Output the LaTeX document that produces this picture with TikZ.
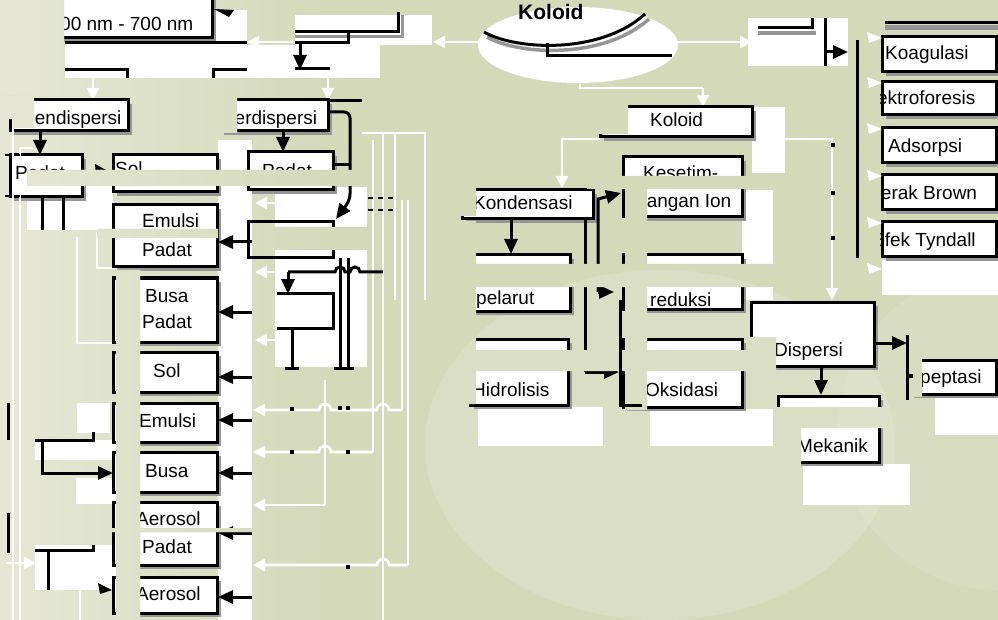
\documentclass[tikz,border=0pt]{standalone}
\usepackage{fontspec}
\setmainfont{Liberation Sans}
\usetikzlibrary{arrows.meta}
\definecolor{bg}{RGB}{212,217,186}
\definecolor{bgl}{RGB}{230,232,214}
\definecolor{shc}{RGB}{150,150,150}
\tikzset{
 bxl/.style={draw=black, line width=3pt, fill=white},
 bk/.style={draw=black, line width=3pt},
 bka/.style={bk, -{Triangle[length=15pt,width=13pt]}},
 wl/.style={draw=white, line width=2.6pt},
 wla/.style={wl, -{Triangle[length=12pt,width=12pt]}},
 txt/.style={font=\fontsize{19}{21}\selectfont, inner sep=0pt, anchor=base west},
 dsh/.style={draw=black, line width=2.4pt, dash pattern=on 5pt off 5pt},
}
\newcommand\bxx[4]{\fill[shc] (#1+4,#2+4) rectangle (#3+4,#4+4); \draw[bxl] (#1,#2) rectangle (#3,#4);}
\newcommand\bdot[2]{\fill[black] (#1-2,#2-2) rectangle (#1+2,#2+2);}
\newcommand\bgpaint{%
 \fill[bg] (-20,-20) rectangle (1020,640);
 \shade[left color=bgl,right color=bg] (-20,-20) rectangle (330,640);
 \fill[white,opacity=.15] (660,445) ellipse (235 and 175);
 \fill[white,opacity=.10] (998,430) circle (160);
}
\begin{document}
\begin{tikzpicture}[x=1pt,y=-1pt]
\useasboundingbox (0,0) rectangle (998,620);
\begin{scope}
\clip (0,0) rectangle (998,620);
\bgpaint
\end{scope}

% ---------- white patches ----------
\fill[white] (65,10) rectangle (247,78);
\fill[white] (295,15) rectangle (432,45);
\fill[white] (247,45) rectangle (380,78);
\fill[white] (578,45) ellipse (100 and 38);
\fill[white] (748,18) rectangle (848,66);
\fill[white] (752,107) rectangle (785,173);
\fill[white] (742,190) rectangle (773,300);
\fill[white] (882,260) rectangle (998,295);
\fill[white] (478,407) rectangle (603,446);
\fill[white] (650,409) rectangle (773,446);
\fill[white] (935,396) rectangle (998,435);
\fill[white] (803,464) rectangle (910,505);
\fill[white] (218,140) rectangle (252,620);
\fill[white] (275,187) rectangle (367,367);
\fill[white] (27,186) rectangle (113,230);
\fill[white] (77,403) rectangle (110,433);
\fill[white] (35,440) rectangle (140,460);
\fill[white] (77,478) rectangle (140,503);
\fill[white] (35,545) rectangle (127,590);

% ---------- white connectors ----------
\draw[wla] (296,42) -- (247,42);
\draw[wla] (479,42) -- (433,42);
\draw[wla] (677,42) -- (752,42);
\draw[wl] (580,78) -- (580,88) -- (703,88);
\draw[wla] (703,88) -- (703,107);
\draw[wla] (93,78) -- (93,100);
\draw[wla] (328,78) -- (328,100);
\draw[wla] (600,139) -- (562,139) -- (562,188);
\draw[wla] (754,139) -- (832,139) -- (832,300);
\draw[wl] (362,133) -- (425,133) -- (425,300);
\draw[wl] (395,133) -- (395,300);
\draw[wl] (373,140) -- (373,452);
\draw[wl] (383,133) -- (383,620);
\draw[wl] (402,200) -- (402,410);
\draw[wl] (408,200) -- (408,565);
\draw[wl] (325,380) -- (325,505);
\draw[wla] (367,203) -- (255,203);
\draw[wla] (275,272) -- (255,272);
\draw[wla] (275,340) -- (255,340);
\draw[wla] (402,410) -- (389,410) arc[start angle=0,end angle=-180,radius=6] -- (331,410) arc[start angle=0,end angle=-180,radius=6] -- (253,410);
\draw[wla] (373,452) -- (331,452) arc[start angle=0,end angle=-180,radius=6] -- (253,452);
\draw[wla] (325,505) -- (253,505);
\draw[wla] (408,565) -- (389,565) arc[start angle=0,end angle=-180,radius=6] -- (253,565);
\draw[wl] (97,232) -- (97,268) -- (135,268);
\draw[wl] (77,237) -- (77,343) -- (113,343);
\draw[wl] (77,478) -- (77,503) -- (113,503);
\draw[wl] (80,591) -- (80,620);
\draw[wla] (6,563) -- (36,563);

% ---------- boxes ----------
\bxx{20}{-10}{212}{38}
\bxx{10}{100}{128}{131}
\bxx{220}{100}{328}{131}
\bxx{10}{155}{82}{197}
\bxx{248}{152}{333}{190}
\bxx{113}{155}{217}{192}
\bxx{113}{205}{217}{267}
\bxx{113}{278}{217}{342}
\bxx{113}{352}{217}{392}
\bxx{113}{403}{217}{442}
\bxx{113}{452}{217}{492}
\bxx{113}{502}{217}{565}
\bxx{113}{577}{217}{613}
\bxx{600}{107}{752}{137}
\bxx{623}{157}{742}{217}
\bxx{462}{190}{593}{219}
\bxx{470}{255}{570}{311}
\bxx{470}{339}{568}{405}
\bxx{623}{255}{742}{309}
\bxx{623}{339}{742}{407}
\bxx{751}{302}{874}{366}
\bxx{910}{360}{996}{394}
\bxx{778}{396}{879}{462}
\bxx{882}{37}{996}{72}
\bxx{882}{82}{996}{115}
\bxx{882}{128}{996}{163}
\bxx{882}{175}{996}{210}
\bxx{882}{222}{996}{257}

% left white guide lines
\draw[wl] (13,122) -- (33,122);
\draw[wl] (13,122) -- (13,620);
\draw[wl] (20,148) -- (33,148);
\draw[wl] (20,148) -- (20,620);

% ---------- black lines ----------
\draw[bk] (65,43) -- (247,43);
\draw[bk] (65,70) -- (127,70) -- (127,78);
\draw[bk] (247,70) -- (213,70) -- (213,78);
\fill[black] (214,9) -- (234,10) -- (229,17) -- cycle;
\fill[shc] (295,35) rectangle (402,38);
\fill[shc] (401,15) rectangle (404,38);
\draw[bk] (295,32) -- (398,32) -- (398,12);
\draw[bk] (295,43) -- (348,43) -- (348,33);
\draw[bka] (300,43) -- (300,70);
\draw[bk] (295,69) -- (330,69);
\draw[shc, line width=3.5pt] (487,37) .. controls (518,55) and (603,60) .. (649,19);
\draw[bk] (484,32) .. controls (515,50) and (600,55) .. (645,14);
\draw[bk] (547,43) -- (547,56) -- (672,56);
\fill[shc] (758,31) rectangle (816,35);
\draw[bk] (758,28) -- (812,28) -- (812,18);
\draw[bk] (825,18) -- (825,66);
\draw[bka] (825,52) -- (848,52);
\draw[bk] (857,40) -- (857,258);
\fill[shc] (885,25) rectangle (998,30);
\draw[bk] (885,23) -- (998,23);
\bdot{833}{145} \bdot{833}{193} \bdot{833}{238}
% left part
\draw[bka] (40,131) -- (40,155);
\draw[bka] (283,131) -- (283,152);
\draw[bk] (328,101) -- (362,101);
\draw[bka, rounded corners=6pt] (328,112) -- (350,112) -- (350,200) -- (336,219);
\draw[bk] (333,165) -- (350,165);
\draw[dsh] (5,155) -- (33,155);
\draw[dsh] (5,196) -- (33,196);
\draw[bk] (42,197) -- (42,230);
\draw[bk] (63,197) -- (63,230);
\fill[black] (95,164) -- (106,170) -- (96,176) -- cycle;
\draw[bk] (248,222) -- (333,222) -- (333,258) -- (248,258) -- cycle;
\draw[bk] (340,258) -- (340,368);
\draw[bk] (348,258) -- (348,368);
\draw[bk] (334,368) -- (354,368);
\draw[bk] (288,272) -- (335,272) arc[start angle=180,end angle=360,radius=5] -- (350,272) arc[start angle=180,end angle=360,radius=5] -- (383,272);
\draw[bka] (288,272) -- (288,294);
\draw[bk] (277,293) -- (333,293) -- (333,328) -- (277,328);
\draw[bk] (292,328) -- (292,368);
\draw[bk] (285,368) -- (299,368);
\draw[dsh] (368,198) -- (395,198);
\draw[dsh] (368,210) -- (395,210);
\bdot{292}{452} \bdot{348}{452} \bdot{340}{408} \bdot{348}{408} \bdot{348}{567} \bdot{292}{409}
\foreach \yy in {242,312,377,420,473,533,597} {\draw[bka] (252,\yy) -- (218,\yy);}
\draw[bk] (8,403) -- (8,440);
\draw[bk] (35,440) -- (93,440) -- (93,432);
\draw[bka] (42,442) -- (42,473) -- (113,473);
\draw[bk] (8,513) -- (8,553);
\draw[bk] (35,550) -- (93,550) -- (93,545);
\draw[bk] (48,550) -- (48,590);
\fill[black] (98,583) -- (112,590) -- (100,594) -- cycle;
% middle
\draw[bka] (511,220) -- (511,254);
\draw[bk] (585,220) -- (585,372);
\draw[bka] (585,372) -- (619,372);
\draw[bka] (598,292) -- (598,199) -- (621,193);
\draw[bka] (598,292) -- (614,292);
% right
\draw[bka] (874,343) -- (907,343);
\draw[bk] (907,335) -- (907,400);
\draw[bka] (821,366) -- (821,395);

% ---------- texts ----------
\node[txt] (nm) at (60,31) {00 nm - 700 nm};
\node[txt, font=\bfseries\fontsize{21}{23}\selectfont] (kol) at (518,20) {Koloid};
\node[txt] (pend) at (22,125) {Pendispersi};
\node[txt] (terd) at (225,125) {Terdispersi};
\node[txt] (pad1) at (15,180) {Padat};
\node[txt] (sol1) at (115,176) {Sol};
\node[txt] (pad2) at (262,178) {Padat};
\node[txt] (emu1) at (142,228) {Emulsi};
\node[txt] (pad3) at (142,257) {Padat};
\node[txt] (bus1) at (145,302) {Busa};
\node[txt] (pad4) at (142,328) {Padat};
\node[txt] (sol2) at (153,377) {Sol};
\node[txt] (emu2) at (139,427) {Emulsi};
\node[txt] (bus2) at (145,477) {Busa};
\node[txt] (aer1) at (136,525) {Aerosol};
\node[txt] (pad5) at (142,553) {Padat};
\node[txt] (aer2) at (136,600) {Aerosol};
\node[txt] (pk) at (650,127) {Koloid};
\node[txt] (kes1) at (643,180) {Kesetim-};
\node[txt] (kes2) at (636,208) {bangan Ion};
\node[txt] (kond) at (473,210) {Kondensasi};
\node[txt] (pel) at (476,304) {pelarut};
\node[txt] (hid) at (472,396) {Hidrolisis};
\node[txt] (red) at (650,306) {reduksi};
\node[txt] (oks) at (645,396) {Oksidasi};
\node[txt] (disp) at (774,356) {Dispersi};
\node[txt] (pept) at (920,383) {peptasi};
\node[txt] (mek) at (797,452) {Mekanik};
\node[txt] (koag) at (885,60) {Koagulasi};
\node[txt] (elek) at (860,105) {Elektroforesis};
\node[txt] (ads) at (888,153) {Adsorpsi};
\node[txt] (ger) at (866,200) {Gerak Brown};
\node[txt] (efk) at (872,247) {Efek Tyndall};

% ---------- covering strips (background repainted through a clip) ----------
\begin{scope}
\clip (0,-12) rectangle (64,80)
 (0,96) rectangle (34,119)
 (12,119) rectangle (34,128)
 (215,96) rectangle (237,133)
 (27,170) rectangle (357,186)
 (97,229) rectangle (218,238)
 (275,227) rectangle (367,250)
 (116,270) rectangle (140,620)
 (97,528) rectangle (252,532)
 (596,103) rectangle (628,134)
 (587,176) rectangle (760,189)
 (625,189) rectangle (647,410)
 (455,186) rectangle (476,216)
 (466,221) rectangle (476,404)
 (465,264) rectangle (775,287)
 (465,350) rectangle (775,371)
 (749,337) rectangle (776,372)
 (909,357) rectangle (922,397)
 (776,407) rectangle (935,428)
 (776,428) rectangle (801,466)
 (859,28) rectangle (880,300);
\bgpaint
\end{scope}
\fill[black] (907,374) rectangle (913,378);
\draw[bk] (620,300) -- (620,405) -- (642,405);
\foreach \yy in {37,82,128,175,222,268} {\fill[white] (867,\yy-5) -- (882,\yy+1) -- (869,\yy+6) -- cycle;}
\end{tikzpicture}
\end{document}
